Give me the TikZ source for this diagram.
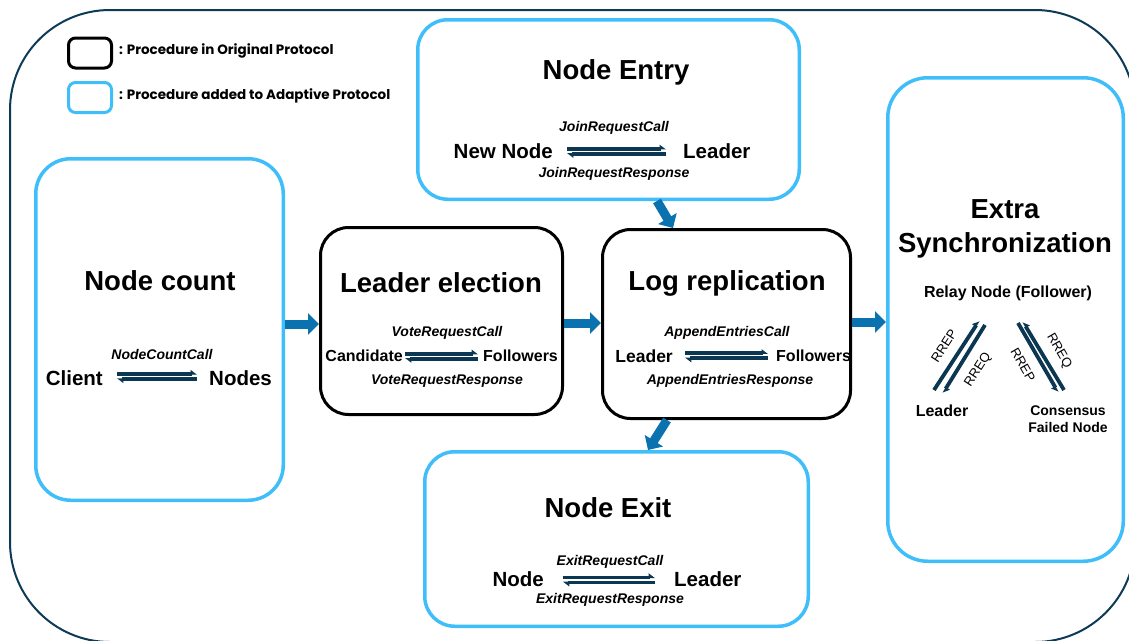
\documentclass[tikz,border=0pt]{standalone}
\usepackage{fontspec}
\setmainfont{Liberation Sans}
\newfontfamily\legendfont{Poppins}
\usetikzlibrary{arrows.meta,calc}
\definecolor{framenavy}{RGB}{13,58,87}
\definecolor{addblue}{RGB}{64,190,250}
\definecolor{flowblue}{RGB}{11,114,176}
\definecolor{msgnavy}{RGB}{12,55,82}
\tikzset{
  origbox/.style={draw=black, line width=3pt, rounded corners=28pt, inner sep=0pt},
  addbox/.style={draw=addblue, line width=3.5pt, rounded corners=30pt, inner sep=0pt},
  boxtitle/.style={font=\bfseries\fontsize{27.5}{34}\selectfont, inner sep=0pt, align=center},
  % party names: text height = cap height so that the centre sits mid-caps
  party/.style={font=\bfseries\fontsize{20.5}{24}\selectfont, inner sep=0pt, text height=14.7pt, text depth=0pt},
  partysmall/.style={font=\bfseries\fontsize{16}{19}\selectfont, inner sep=0pt, text height=11.5pt, text depth=0pt},
  partymid/.style={font=\bfseries\fontsize{17.5}{21}\selectfont, inner sep=0pt, text height=12.5pt, text depth=0pt},
  callname/.style={font=\bfseries\itshape\fontsize{14}{16}\selectfont, inner sep=0pt},
  msg/.style={draw=msgnavy, line width=3.8pt, -{Triangle[length=5.5pt,width=8pt,harpoon]}},
  msgswap/.style={draw=msgnavy, line width=3.8pt, -{Triangle[length=5.5pt,width=8pt,harpoon,swap]}},
  flow/.style={draw=flowblue, line width=9pt, -{Triangle[length=11pt,width=21pt]}},
  legendtext/.style={font=\legendfont\bfseries\fontsize{13.5}{15}\selectfont, inner sep=0pt, anchor=west},
  relaylbl/.style={font=\fontsize{13}{15}\selectfont, inner sep=0pt},
  plainbold/.style={inner sep=0pt, align=center},
}
\begin{document}
\begin{tikzpicture}[x=1pt, y=-1pt]
\useasboundingbox (0,0) rectangle (1129,640);
\begin{scope}
\clip (0,0) rectangle (1129,640);
% outer frame
\draw[framenavy, line width=2pt, rounded corners=100pt] (10,10) rectangle (1135,642);

% legend
\node[draw=black, line width=3pt, rounded corners=7pt, minimum width=43pt, minimum height=30pt, inner sep=0pt] (legorig) at (90,53) {};
\node[draw=addblue, line width=3pt, rounded corners=7pt, minimum width=43pt, minimum height=30pt, inner sep=0pt] (legadd) at (90,97.5) {};
\node[legendtext] (legorigtxt) at (119,51) {: Procedure in Original Protocol};
\node[legendtext] (legaddtxt) at (119,96) {: Procedure added to Adaptive Protocol};

% procedure boxes
\node[addbox, minimum width=381.5pt, minimum height=179.5pt] (entry) at (608.5,109.5) {};
\node[addbox, rounded corners=35pt, minimum width=247.5pt, minimum height=341.5pt] (count) at (159.5,329.5) {};
\node[origbox, minimum width=242pt, minimum height=187pt] (elect) at (441.5,321) {};
\node[origbox, minimum width=248pt, minimum height=189pt] (repl) at (726.5,324) {};
\node[addbox, minimum width=383.5pt, minimum height=174.5pt] (exit) at (616.5,539) {};
\node[addbox, rounded corners=40pt, minimum width=235.5pt, minimum height=483.5pt] (extra) at (1005.5,319.5) {};

% Node Entry
\node[boxtitle] (entrytitle) at (616,72) {Node Entry};
\node[callname] (joincall) at (614,128) {JoinRequestCall};
\node[party, anchor=east] (newnode) at (553,151) {New Node};
\node[party, anchor=west] (entryleader) at (683,151) {Leader};
\node[callname] (joinresp) at (614,174) {JoinRequestResponse};
\draw[msg, shorten <=14pt, shorten >=17pt] ([yshift=2.2pt]newnode.east) -- ([yshift=2.2pt]entryleader.west);
\draw[msg, shorten <=17pt, shorten >=14pt] ([yshift=-2.8pt]entryleader.west) -- ([yshift=-2.8pt]newnode.east);

% Node count
\node[boxtitle] (counttitle) at (160,281) {Node count};
\node[callname] (countcall) at (162,354) {NodeCountCall};
\node[party, anchor=east] (client) at (103,378) {Client};
\node[party, anchor=west] (nodes) at (209,378) {Nodes};
\draw[msg, shorten <=14pt, shorten >=12pt] ([yshift=4pt]client.east) -- ([yshift=4pt]nodes.west);
\draw[msg, shorten <=12pt, shorten >=14pt] ([yshift=-1pt]nodes.west) -- ([yshift=-1pt]client.east);

% Leader election
\node[boxtitle] (electtitle) at (441,283) {Leader election};
\node[callname] (votecall) at (447,333) {VoteRequestCall};
\node[partysmall, anchor=east] (candidate) at (403,356) {Candidate};
\node[partysmall, anchor=west] (electfollowers) at (483,356) {Followers};
\node[callname] (voteresp) at (447,381) {VoteRequestResponse};
\draw[msg, shorten <=2pt, shorten >=5pt] ([yshift=2.3pt]candidate.east) -- ([yshift=2.3pt]electfollowers.west);
\draw[msg, shorten <=5pt, shorten >=2pt] ([yshift=-2.7pt]electfollowers.west) -- ([yshift=-2.7pt]candidate.east);

% Log replication
\node[boxtitle] (repltitle) at (727,283) {Log replication};
\node[callname] (appendcall) at (727,333) {AppendEntriesCall};
\node[partymid, anchor=east] (replleader) at (673,356) {Leader};
\node[partysmall, anchor=west] (replfollowers) at (776,356) {Followers};
\node[callname] (appendresp) at (730,381) {AppendEntriesResponse};
\draw[msg, shorten <=12pt, shorten >=8pt] ([yshift=2.7pt]replleader.east) -- ([yshift=2.7pt]replfollowers.west);
\draw[msg, shorten <=8pt, shorten >=12pt] ([yshift=-2.3pt]replfollowers.west) -- ([yshift=-2.3pt]replleader.east);

% Node Exit
\node[boxtitle] (exittitle) at (608,508) {Node Exit};
\node[callname] (exitcall) at (610,562) {ExitRequestCall};
\node[party, anchor=east] (exitnode) at (544,579) {Node};
\node[party, anchor=west] (exitleader) at (674,579) {Leader};
\node[callname] (exitresp) at (610,600) {ExitRequestResponse};
\draw[msg, shorten <=19pt, shorten >=19pt] ([yshift=1.6pt]exitnode.east) -- ([yshift=1.6pt]exitleader.west);
\draw[msg, shorten <=19pt, shorten >=19pt] ([yshift=-3.4pt]exitleader.west) -- ([yshift=-3.4pt]exitnode.east);

% Extra Synchronization
\node[boxtitle] (extratitle) at (1005,229) {Extra\\Synchronization};
\node[plainbold, font=\bfseries\fontsize{16}{19}\selectfont] (relay) at (1008,293) {Relay Node (Follower)};
\node[plainbold, font=\bfseries\fontsize{16}{19}\selectfont] (syncleader) at (942,411) {Leader};
\node[plainbold, font=\bfseries\fontsize{14}{17}\selectfont] (failed) at (1068,419) {Consensus\\Failed Node};
\coordinate (la) at (934,390);
\coordinate (lb) at (979,321);
\coordinate (lc) at (985,325);
\coordinate (ld) at (943,393);
\coordinate (ra) at (1018,323);
\coordinate (rb) at (1058,392);
\coordinate (rc) at (1064,390);
\coordinate (rd) at (1023,322);
\draw[msg] (la) -- (lb);
\draw[msg] (lc) -- (ld);
\draw[msgswap] (ra) -- (rb);
\draw[msgswap] (rc) -- (rd);
\node[relaylbl, rotate=57] (rrepl) at (944,346) {RREP};
\node[relaylbl, rotate=57] (rreql) at (978,370) {RREQ};
\node[relaylbl, rotate=-60] (rreqr) at (1059,351) {RREQ};
\node[relaylbl, rotate=-60] (rrepr) at (1023,365) {RREP};

% flow between procedures
\draw[flow] (count.east |- 0,324) -- (elect.west |- 0,324);
\draw[flow] (elect.east |- 0,323) -- (repl.west |- 0,323);
\draw[flow] (repl.east |- 0,322) -- (extra.west |- 0,322);
\draw[flow] (entry.south -| 657,0) -- (repl.north -| 673,0);
\draw[flow] (repl.south -| 667,0) -- (exit.north -| 648,0);
\end{scope}
\end{tikzpicture}
\end{document}
